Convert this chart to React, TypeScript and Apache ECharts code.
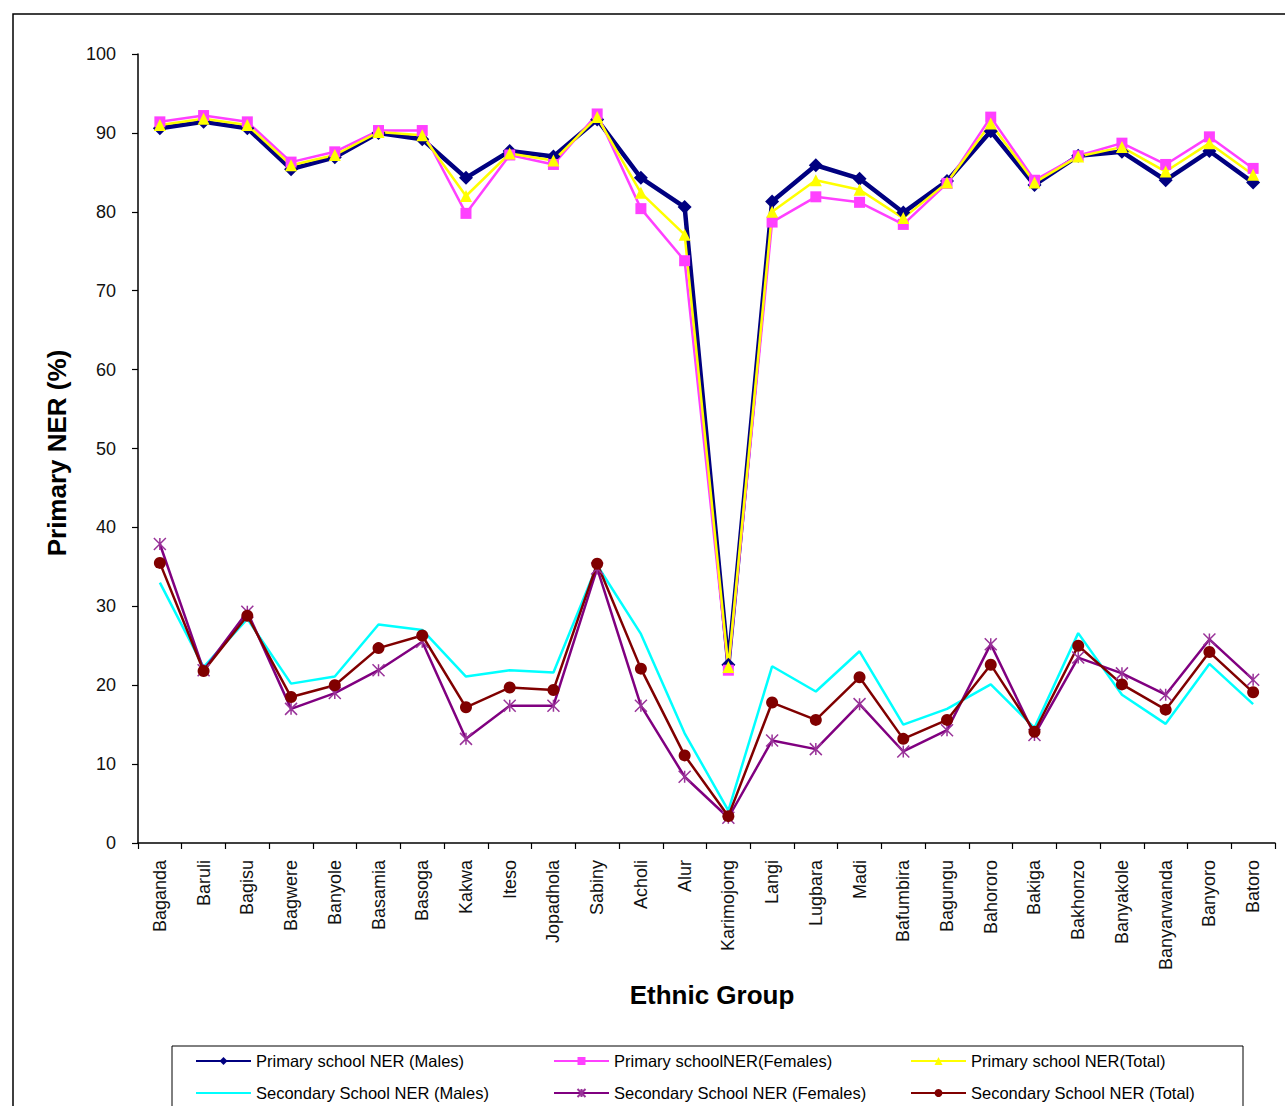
import React, { useEffect, useRef } from "react";
import * as echarts from "echarts";

// Ethnic groups along the x axis
const categories = [
  "Baganda", "Baruli", "Bagisu", "Bagwere", "Banyole", "Basamia", "Basoga",
  "Kakwa", "Iteso", "Jopadhola", "Sabiny", "Acholi", "Alur", "Karimojong",
  "Langi", "Lugbara", "Madi", "Bafumbira", "Bagungu", "Bahororo", "Bakiga",
  "Bakhonzo", "Banyakole", "Banyarwanda", "Banyoro", "Batoro",
];

// Net enrolment ratios (%)
const primaryMales = [
  90.6, 91.4, 90.6, 85.4, 86.9, 90.0, 89.2, 84.3, 87.7, 87.0, 91.7, 84.3, 80.6,
  22.6, 81.3, 85.9, 84.2, 79.9, 83.9, 90.2, 83.4, 87.1, 87.6, 84.0, 87.7, 83.7,
];
const primaryFemales = [
  91.4, 92.2, 91.4, 86.3, 87.6, 90.3, 90.3, 79.8, 87.2, 86.0, 92.4, 80.4, 73.8,
  21.9, 78.7, 81.9, 81.2, 78.4, 83.6, 92.0, 84.0, 87.1, 88.7, 86.0, 89.5, 85.5,
];
const primaryTotal = [
  91.0, 91.8, 91.0, 85.9, 87.2, 90.1, 89.7, 82.0, 87.4, 86.5, 92.0, 82.4, 77.1,
  22.3, 80.0, 84.0, 82.8, 79.2, 83.7, 91.2, 83.7, 87.0, 88.2, 85.1, 88.7, 84.7,
];
const secondaryMales = [
  33.0, 22.3, 28.4, 20.2, 21.1, 27.7, 27.0, 21.1, 21.9, 21.6, 35.2, 26.5, 13.9,
  4.1, 22.4, 19.2, 24.3, 15.0, 17.0, 20.1, 14.6, 26.6, 18.8, 15.1, 22.7, 17.6,
];
const secondaryFemales = [
  37.9, 21.9, 29.3, 17.0, 19.0, 21.9, 25.5, 13.2, 17.4, 17.4, 34.8, 17.4, 8.4,
  3.2, 13.0, 11.9, 17.6, 11.6, 14.3, 25.2, 13.7, 23.5, 21.5, 18.8, 25.8, 20.7,
];
const secondaryTotal = [
  35.5, 21.8, 28.8, 18.5, 20.0, 24.7, 26.3, 17.2, 19.7, 19.4, 35.4, 22.1, 11.1,
  3.4, 17.8, 15.6, 21.0, 13.2, 15.6, 22.6, 14.1, 25.0, 20.1, 16.9, 24.2, 19.1,
];

const seriesNames = [
  "Primary school NER (Males)",
  "Primary schoolNER(Females)",
  "Primary school NER(Total)",
  "Secondary School NER (Males)",
  "Secondary School NER (Females)",
  "Secondary School NER (Total)",
];

const FONT = "'Liberation Sans', Arial, sans-serif";
const ASTERISK = "path://M0,0L10,10M10,0L0,10M5,0L5,10";

export default function App() {
  const ref = useRef<HTMLDivElement>(null);

  useEffect(() => {
    if (!ref.current) return;
    const chart = echarts.init(ref.current, null, { renderer: "svg" });

    const lineSeries = (
      name: string,
      data: number[],
      color: string,
      width: number,
      symbol: string,
      symbolSize: number,
      extraItem: any = {}
    ) => ({
      name,
      type: "line",
      data,
      symbol,
      symbolSize,
      showAllSymbol: true,
      lineStyle: { color, width },
      itemStyle: { color, borderColor: color, borderWidth: 0, ...extraItem },
      emphasis: { disabled: true },
    });

    const legendBase = {
      orient: "vertical",
      top: 1052,
      height: 60,
      itemWidth: 55,
      itemHeight: 10,
      itemGap: 14,
      padding: 0,
      textStyle: { fontFamily: FONT, fontSize: 16.5, lineHeight: 18, color: "#000" },
      selectedMode: false,
    };

    chart.setOption({
      animation: false,
      backgroundColor: "#fff",
      grid: { left: 138, top: 54, right: 10, bottom: 263 },
      legend: [
        { ...legendBase, left: 195, data: [seriesNames[0], { name: seriesNames[3], itemStyle: { opacity: 0 } }] },
        { ...legendBase, left: 553, data: [seriesNames[1], seriesNames[4]] },
        { ...legendBase, left: 910, data: [seriesNames[2], seriesNames[5]] },
      ],
      xAxis: {
        type: "category",
        data: categories,
        boundaryGap: true,
        axisLine: { lineStyle: { color: "#000", width: 1.5 } },
        axisTick: { show: true, length: 6, lineStyle: { color: "#000", width: 1.2 } },
        axisLabel: {
          rotate: 90,
          interval: 0,
          margin: 17,
          fontFamily: FONT,
          fontSize: 18,
          color: "#111",
        },
        splitLine: { show: false },
      },
      yAxis: {
        type: "value",
        min: 0,
        max: 100,
        interval: 10,
        axisLine: { show: true, lineStyle: { color: "#000", width: 1.5 } },
        axisTick: { show: true, length: 6, lineStyle: { color: "#000", width: 1.2 } },
        axisLabel: { margin: 22, fontFamily: FONT, fontSize: 18, color: "#111" },
        splitLine: { show: false },
      },
      graphic: [
        {
          type: "rect",
          silent: true,
          z: -1,
          shape: { x: 13, y: 14, width: 1300, height: 1200 },
          style: { fill: "none", stroke: "#000", lineWidth: 1.5 },
        },
        {
          type: "rect",
          silent: true,
          shape: { x: 172, y: 1046, width: 1071, height: 80 },
          style: { fill: "none", stroke: "#000", lineWidth: 1 },
        },
        {
          type: "text",
          silent: true,
          x: 57,
          y: 453,
          rotation: Math.PI / 2,
          style: {
            text: "Primary NER (%)",
            font: `bold 26px ${FONT}`,
            fill: "#000",
            textAlign: "center",
            textVerticalAlign: "middle",
          },
        },
        {
          type: "text",
          silent: true,
          x: 712,
          y: 995,
          style: {
            text: "Ethnic Group",
            font: `bold 26px ${FONT}`,
            fill: "#000",
            textAlign: "center",
            textVerticalAlign: "middle",
          },
        },
      ],
      series: [
        lineSeries(seriesNames[0], primaryMales, "#000080", 4.5, "diamond", 14),
        lineSeries(seriesNames[1], primaryFemales, "#FF40FF", 2.5, "rect", 11),
        lineSeries(seriesNames[2], primaryTotal, "#FFFF00", 2.5, "triangle", 12),
        lineSeries(seriesNames[3], secondaryMales, "#00FFFF", 2.5, "none", 0),
        lineSeries(seriesNames[4], secondaryFemales, "#800080", 2.5, ASTERISK, 12, {
          borderWidth: 1.5,
          borderColor: "#993399",
        }),
        lineSeries(seriesNames[5], secondaryTotal, "#800000", 2.5, "circle", 12),
      ],
    });

    return () => chart.dispose();
  }, []);

  return (
    <div
      ref={ref}
      style={{ position: "absolute", left: 0, top: 0, width: 1285, height: 1106 }}
    />
  );
}
